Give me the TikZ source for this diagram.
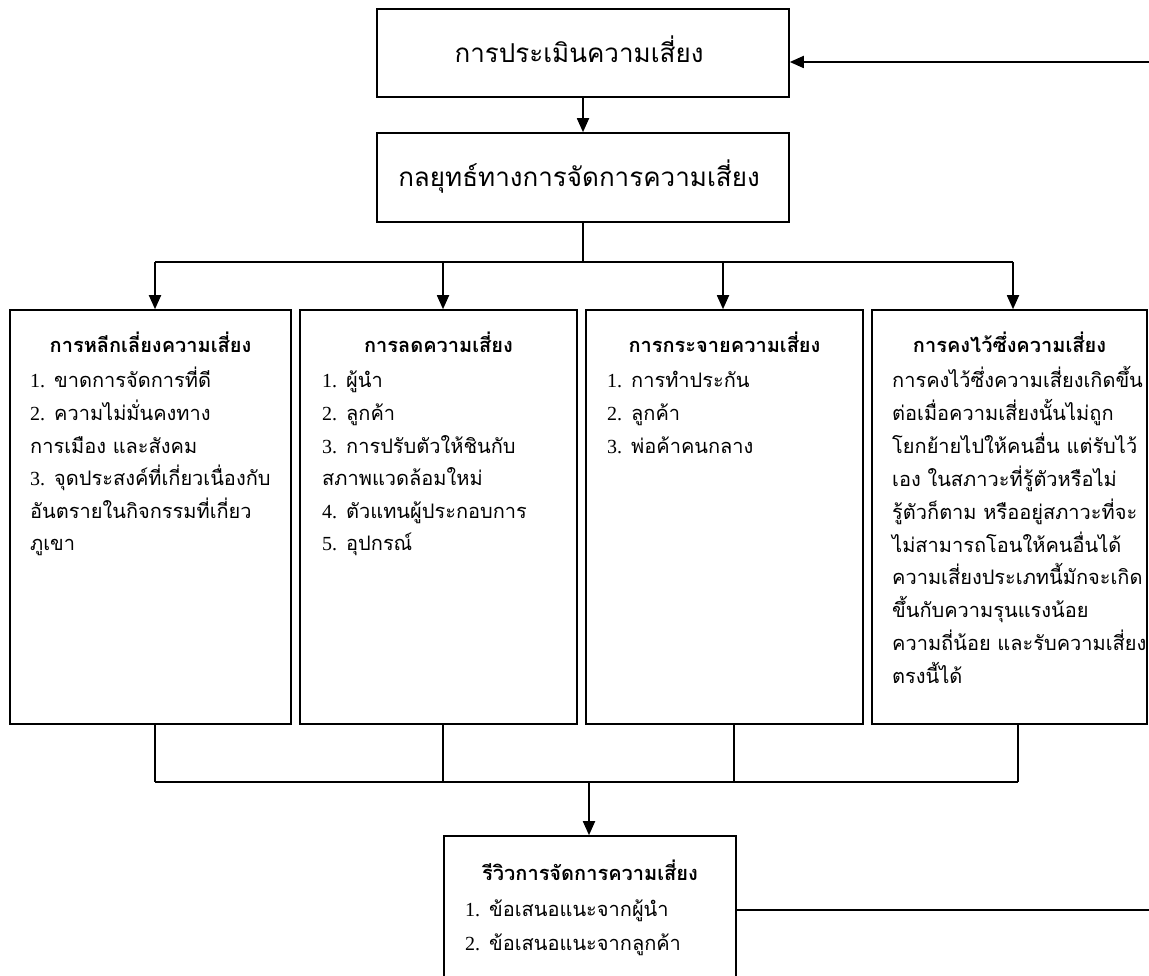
\documentclass[tikz,border=0pt]{standalone}
\usepackage{fontspec}
\usetikzlibrary{arrows.meta}
\newfontfamily\thai[Script=Thai]{Loma}
\newfontfamily\lat{Liberation Serif}
\newcommand\bodysz{\fontsize{20}{24}\selectfont}
\newcommand\bigsz{\fontsize{26}{30}\selectfont}
\begin{document}
\begin{tikzpicture}[x=1pt,y=-1pt,
  box/.style={draw,line width=1.6pt,inner sep=0pt},
  arr/.style={line width=1.8pt,-{Triangle[length=14pt,width=12pt]}},
  ln/.style={line width=1.8pt},
  thinln/.style={line width=1.3pt},
  body/.style={anchor=base west,inner sep=0pt,font=\thai\bodysz},
  head/.style={anchor=base,inner sep=0pt,font=\thai\bfseries\bodysz},
  big/.style={anchor=base,inner sep=0pt,font=\thai\bigsz}]
\useasboundingbox (0,0) rectangle (1149,976);
\clip (0,0) rectangle (1149,976);
\fill[white] (0,0) rectangle (1149,976);

% top boxes
\node[box,minimum width=412pt,minimum height=88pt] (b1) at (583,53) {};
\node[big] (t1) at (579,63) {การประเมินความเสี่ยง};
\node[box,minimum width=412pt,minimum height=89pt] (b2) at (583,177.5) {};
\node[big] (t2) at (579,187) {กลยุทธ์ทางการจัดการความเสี่ยง};

% column boxes
\node[box,minimum width=281pt,minimum height=414pt] (cA) at (150.5,517) {};
\node[box,minimum width=277pt,minimum height=414pt] (cB) at (438.5,517) {};
\node[box,minimum width=277pt,minimum height=414pt] (cC) at (724.5,517) {};
\node[box,minimum width=275pt,minimum height=414pt] (cD) at (1009.5,517) {};

% review box
\node[box,minimum width=292pt,minimum height=180pt] (rv) at (590,926) {};

% headings
\node[head] (hA) at (150.5,353) {การหลีกเลี่ยงความเสี่ยง};
\node[head] (hB) at (438.5,353) {การลดความเสี่ยง};
\node[head] (hC) at (724.5,353) {การกระจายความเสี่ยง};
\node[head] (hD) at (1009.5,353) {การคงไว้ซึ่งความเสี่ยง};
\node[head] (hR) at (590,880) {รีวิวการจัดการความเสี่ยง};

% column A
\foreach \t [count=\i] in {{{\lat 1.} ขาดการจัดการที่ดี},{{\lat 2.} ความไม่มั่นคงทาง},{การเมือง และสังคม},{{\lat 3.} จุดประสงค์ที่เกี่ยวเนื่องกับ},{อันตรายในกิจกรรมที่เกี่ยว},{ภูเขา}}
  \node[body] (A\i) at (30,{388+(\i-1)*32.5}) {\t};
% column B
\foreach \t [count=\i] in {{{\lat 1.} ผู้นำ},{{\lat 2.} ลูกค้า},{{\lat 3.} การปรับตัวให้ชินกับ},{สภาพแวดล้อมใหม่},{{\lat 4.} ตัวแทนผู้ประกอบการ},{{\lat 5.} อุปกรณ์}}
  \node[body] (B\i) at (322,{388+(\i-1)*32.5}) {\t};
% column C
\foreach \t [count=\i] in {{{\lat 1.} การทำประกัน},{{\lat 2.} ลูกค้า},{{\lat 3.} พ่อค้าคนกลาง}}
  \node[body] (C\i) at (607,{388+(\i-1)*32.5}) {\t};
% column D
\foreach \t [count=\i] in {{การคงไว้ซึ่งความเสี่ยงเกิดขึ้น},{ต่อเมื่อความเสี่ยงนั้นไม่ถูก},{โยกย้ายไปให้คนอื่น แต่รับไว้},{เอง ในสภาวะที่รู้ตัวหรือไม่},{รู้ตัวก็ตาม หรืออยู่สภาวะที่จะ},{ไม่สามารถโอนให้คนอื่นได้},{ความเสี่ยงประเภทนี้มักจะเกิด},{ขึ้นกับความรุนแรงน้อย},{ความถี่น้อย และรับความเสี่ยง},{ตรงนี้ได้}}
  \node[body] (D\i) at (892,{388+(\i-1)*32.8}) {\t};
% review
\node[body] (R1) at (465,916) {{\lat 1.} ข้อเสนอแนะจากผู้นำ};
\node[body] (R2) at (465,950) {{\lat 2.} ข้อเสนอแนะจากลูกค้า};

% connectors top
\coordinate (inR) at (1149,62);
\draw[arr] (inR) -- (inR -| b1.east);
\draw[arr] (b1.south) -- (b2.north);
\coordinate (j1) at (583,262);
\coordinate (tA) at (155,262);
\coordinate (tB) at (443,262);
\coordinate (tC) at (723,262);
\coordinate (tD) at (1013,262);
\draw[ln] (b2.south) -- (j1);
\draw[ln] (tA) -- (tD);
\draw[arr] (tA) -- (tA |- cA.north);
\draw[arr] (tB) -- (tB |- cB.north);
\draw[arr] (tC) -- (tC |- cC.north);
\draw[arr] (tD) -- (tD |- cD.north);

% connectors bottom
\coordinate (uA) at (155,782);
\coordinate (uB) at (443,782);
\coordinate (uC) at (734,782);
\coordinate (uD) at (1018,782);
\coordinate (um) at (589,782);
\draw[thinln] (uA |- cA.south) -- (uA);
\draw[thinln] (uB |- cB.south) -- (uB);
\draw[thinln] (uC |- cC.south) -- (uC);
\draw[thinln] (uD |- cD.south) -- (uD);
\draw[thinln] (uA) -- (uD);
\draw[arr] (um) -- (um |- rv.north);

% review out line
\coordinate (outR) at (1149,910);
\draw[ln] (outR -| rv.east) -- (outR);
\end{tikzpicture}
\end{document}
